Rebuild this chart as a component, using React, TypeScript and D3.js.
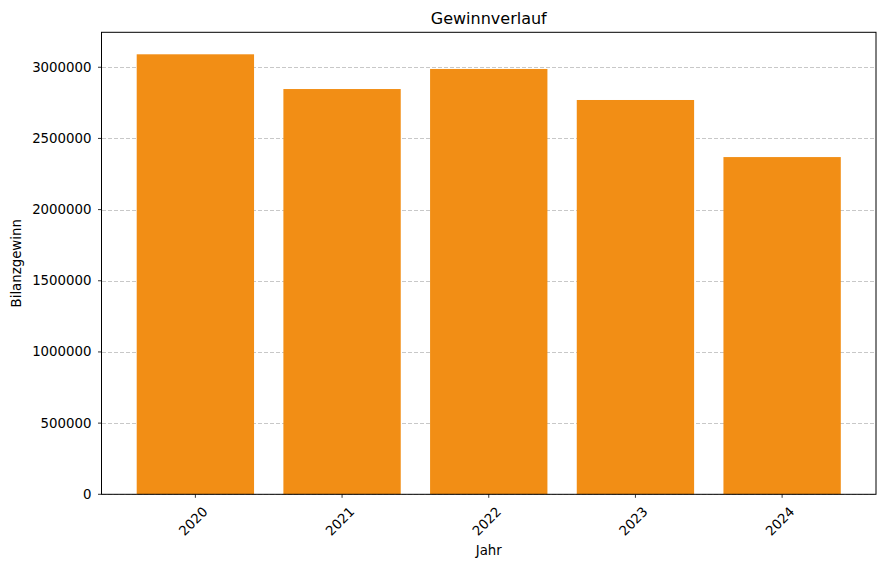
import React from "react";
import * as d3 from "d3";

const years = ["2020", "2021", "2022", "2023", "2024"];
const profits = [3091000, 2847000, 2988000, 2770000, 2369000];
const yTicks = [0, 500000, 1000000, 1500000, 2000000, 2500000, 3000000];

const W = 885;
const H = 568;
const M = { left: 101.5, right: 876, top: 32.3, bottom: 494.3 };
const FONT = "'DejaVu Sans', sans-serif";
const BAR = "#f28e15";

export default function App() {
  const n = years.length;
  const x = d3
    .scaleLinear()
    .domain([-0.4 - 0.05 * (n - 1 + 0.8), n - 1 + 0.4 + 0.05 * (n - 1 + 0.8)])
    .range([M.left, M.right]);
  const yMax = (d3.max(profits) as number) * 1.05;
  const y = d3.scaleLinear().domain([0, yMax]).range([M.bottom, M.top]);
  const bw = x(0.8) - x(0);

  return (
    <div style={{ position: "absolute", left: 0, top: 0 }}>
      <svg width={W} height={H} style={{ display: "block", background: "#fff" }}>
        {/* grid */}
        {yTicks.map((t) => (
          <line
            key={"g" + t}
            x1={M.left}
            x2={M.right}
            y1={Math.round(y(t)) + 0.5}
            y2={Math.round(y(t)) + 0.5}
            stroke="#b0b0b0"
            strokeOpacity={0.7}
            strokeWidth={1}
            strokeDasharray="4.2,1.8"
            shapeRendering="crispEdges"
          />
        ))}
        {/* bars */}
        {profits.map((v, i) => (
          <rect
            key={years[i]}
            x={x(i) - bw / 2}
            y={y(v)}
            width={bw}
            height={y(0) - y(v)}
            fill={BAR}
          />
        ))}
        {/* spines */}
        <rect
          x={M.left}
          y={M.top}
          width={M.right - M.left}
          height={M.bottom - M.top}
          fill="none"
          stroke="#000"
          strokeWidth={1}
        />
        {/* y ticks */}
        {yTicks.map((t) => (
          <g key={"y" + t}>
            <line x1={M.left - 3.5} x2={M.left} y1={y(t)} y2={y(t)} stroke="#000" strokeWidth={0.8} />
            <text
              x={M.left - 10}
              y={y(t)}
              textAnchor="end"
              dominantBaseline="central"
              fontFamily={FONT}
              fontSize={13.33}
              fill="#000"
            >
              {t}
            </text>
          </g>
        ))}
        {/* x ticks */}
        {years.map((yr, i) => (
          <g key={"x" + yr}>
            <line x1={x(i)} x2={x(i)} y1={M.bottom} y2={M.bottom + 3.5} stroke="#000" strokeWidth={0.8} />
            <text
              transform={`translate(${x(i) - 2},${M.bottom + 27}) rotate(-45)`}
              textAnchor="middle"
              dominantBaseline="central"
              fontFamily={FONT}
              fontSize={13.33}
              fill="#000"
            >
              {yr}
            </text>
          </g>
        ))}
        {/* labels */}
        <text
          x={(M.left + M.right) / 2}
          y={24}
          textAnchor="middle"
          fontFamily={FONT}
          fontSize={16}
          fill="#000"
        >
          Gewinnverlauf
        </text>
        <text
          x={(M.left + M.right) / 2}
          y={555}
          textAnchor="middle"
          fontFamily={FONT}
          fontSize={13.33}
          fill="#000"
        >
          Jahr
        </text>
        <text
          transform={`translate(21,${(M.top + M.bottom) / 2}) rotate(-90)`}
          textAnchor="middle"
          fontFamily={FONT}
          fontSize={13.33}
          fill="#000"
        >
          Bilanzgewinn
        </text>
      </svg>
    </div>
  );
}
